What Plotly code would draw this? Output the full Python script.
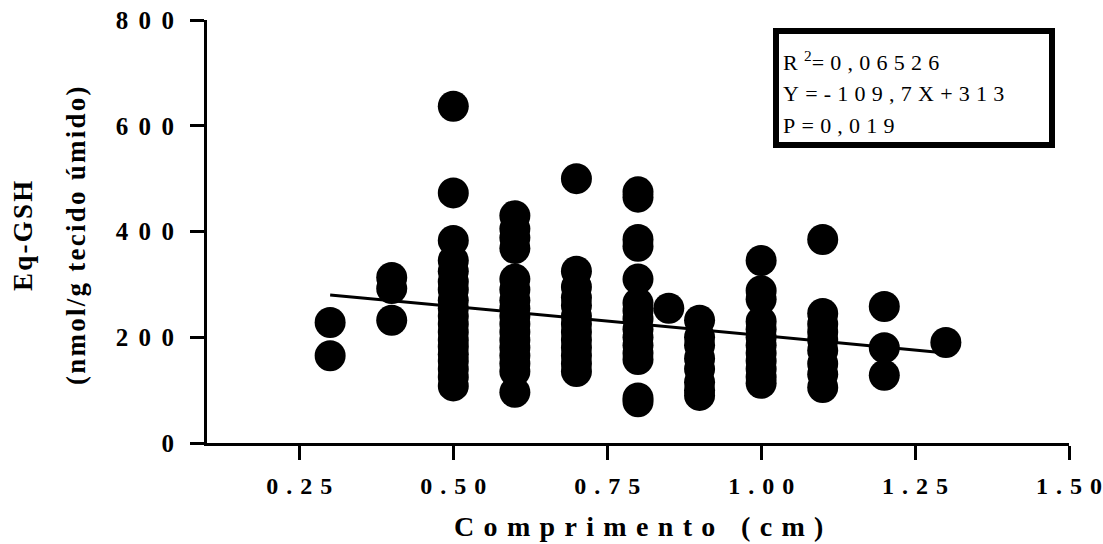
import plotly.graph_objects as go

# ---- data ----
x_groups = [0.3, 0.4, 0.5, 0.6, 0.7, 0.8, 0.85, 0.9, 1.0, 1.1, 1.2, 1.3]
y_groups = [
    [228, 165],
    [313, 292, 232],
    [637, 473, 383, 345, 325, 305, 290, 270, 255, 240, 225, 210, 195, 182, 168, 155, 140, 125, 108],
    [430, 405, 388, 368, 310, 290, 270, 255, 240, 225, 210, 195, 180, 165, 150, 135, 96],
    [500, 325, 295, 275, 260, 240, 225, 210, 195, 180, 165, 150, 135],
    [475, 465, 385, 372, 310, 265, 250, 235, 215, 200, 185, 170, 158, 85, 78],
    [255],
    [232, 200, 185, 160, 140, 115, 100, 90],
    [345, 288, 272, 230, 215, 200, 185, 170, 155, 140, 125, 113],
    [385, 245, 225, 210, 195, 175, 150, 130, 105],
    [258, 180, 128],
    [190],
]
slope = -109.7
intercept = 313
fit_x = [0.3, 1.3]

x_ticks = [0.25, 0.50, 0.75, 1.00, 1.25, 1.50]
y_ticks = [0, 200, 400, 600, 800]
stats_prefix = ["R", "", ""]
stats_sup = ["2", "", ""]
stats_body = ["=0,06526", "Y=-109,7X+313", "P=0,019"]
x_title = "Comprimento (cm)"
y_title_1 = "Eq-GSH"
y_title_2 = "(nmol/g tecido úmido)"

# ---- helpers ----
EN = "\u2002"
TPM = "\u2004"
TH = "\u2009"
HAIR = "\u200A"


def spaced(s, sep=EN):
    return sep.join(list(s))


xs, ys = [], []
for xv, vals in zip(x_groups, y_groups):
    for v in vals:
        xs.append(xv)
        ys.append(v)

fit_y = [slope * v + intercept for v in fit_x]

SERIF = "Liberation Serif, Times New Roman, serif"

fig = go.Figure()
fig.add_trace(go.Scatter(
    x=xs, y=ys, mode="markers",
    marker=dict(symbol="circle", size=31, color="black", line=dict(width=0)),
    showlegend=False, hoverinfo="x+y",
))
fig.add_trace(go.Scatter(
    x=fit_x, y=fit_y, mode="lines",
    line=dict(color="black", width=3),
    showlegend=False,
))

fig.update_layout(
    width=1103, height=544, autosize=False,
    margin=dict(l=207, r=34, t=20, b=101, pad=0, autoexpand=False),
    paper_bgcolor="white", plot_bgcolor="white",
    font=dict(family=SERIF, color="black"),
)

fig.update_xaxes(
    range=[0.1, 1.5], showgrid=False, zeroline=False, automargin=False,
    showline=True, linecolor="black", linewidth=3,
    ticks="outside", ticklen=14, tickwidth=3, tickcolor="black",
    tickvals=x_ticks, ticktext=["<b>" + spaced(f"{v:.2f}", TPM) + "</b>" for v in x_ticks],
    tickfont=dict(family=SERIF, size=24, color="black"),
    ticklabelstandoff=5, ticklabeloverflow="allow",
)
fig.update_yaxes(
    range=[0, 800], showgrid=False, zeroline=False, automargin=False,
    showline=True, linecolor="black", linewidth=3,
    ticks="outside", ticklen=14, tickwidth=3, tickcolor="black",
    tickvals=y_ticks, ticktext=["<b>" + spaced(str(v), TPM + HAIR) + "</b>" for v in y_ticks],
    tickfont=dict(family=SERIF, size=25, color="black"),
    ticklabelstandoff=11, ticklabeloverflow="allow",
)

PW, PH = 862.0, 423.0
L, T = 207.0, 20.0


def px_x(px):
    return (px - L) / PW


def px_y(py):
    return 1 - (py - T) / PH


# x-axis title
fig.add_annotation(
    x=px_x(638), y=px_y(526), xref="paper", yref="paper",
    text="<b>" + spaced(x_title, TPM) + "</b>", showarrow=False,
    font=dict(family=SERIF, size=28, color="black"),
    xanchor="center", yanchor="middle",
)
# y-axis title (two lines)
fig.add_annotation(
    x=px_x(23), y=px_y(236), xref="paper", yref="paper",
    text="<b>" + spaced(y_title_1, HAIR) + "</b>", showarrow=False, textangle=-90,
    font=dict(family=SERIF, size=27, color="black"),
    xanchor="center", yanchor="middle",
)
fig.add_annotation(
    x=px_x(76), y=px_y(236), xref="paper", yref="paper",
    text="<b>" + spaced(y_title_2, HAIR) + "</b>", showarrow=False, textangle=-90,
    font=dict(family=SERIF, size=27, color="black"),
    xanchor="center", yanchor="middle",
)

# statistics box
fig.add_shape(
    type="rect", xref="paper", yref="paper",
    x0=px_x(776), x1=px_x(1052), y0=px_y(145), y1=px_y(31),
    line=dict(color="black", width=6), fillcolor="white", layer="above",
)
GAP = TH + HAIR
for i in range(3):
    txt = ""
    if stats_prefix[i]:
        txt += stats_prefix[i] + GAP
    if stats_sup[i]:
        txt += "<sup>" + stats_sup[i] + "</sup>"
    txt += GAP.join(list(stats_body[i]))
    fig.add_annotation(
        x=px_x(781), y=px_y(61 + 32 * i), xref="paper", yref="paper",
        text=txt, showarrow=False, xanchor="left", yanchor="middle",
        font=dict(family=SERIF, size=22, color="black"),
    )

fig.write_html("out.html")
